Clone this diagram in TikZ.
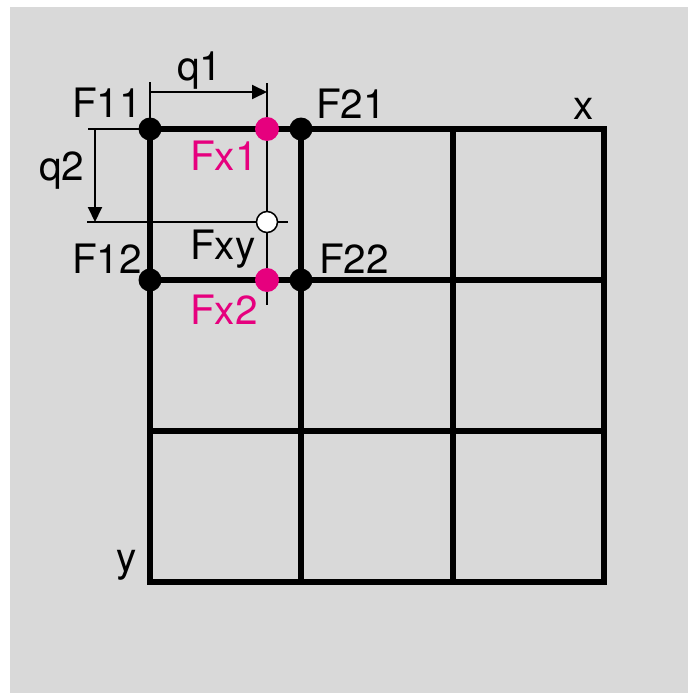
\documentclass[tikz,border=0pt]{standalone}
\usepackage{fontspec}
\setmainfont{TeX Gyre Heros}
\usetikzlibrary{arrows.meta}
\definecolor{fxpink}{RGB}{230,0,126}
\definecolor{bggray}{RGB}{217,217,217}

\begin{document}
\begin{tikzpicture}[x=1pt,y=-1pt,
    every node/.style={inner sep=0pt,font=\fontsize{40.5}{48}\selectfont},
    lbl/.style={anchor=base west},
    thinline/.style={line width=2pt},
    dim/.style={thinline,-{Triangle[length=15pt,width=14pt]}},
    gridline/.style={line width=5.2pt},
    knot/.style={circle,fill=black,minimum size=23pt},
    interp/.style={circle,fill=fxpink,minimum size=24pt},
    target/.style={circle,draw=black,line width=1.5pt,fill=white,minimum size=21pt}]

    \useasboundingbox (0,0) rectangle (688,693);
    \fill[bggray] (10,7) rectangle (688,693);

    % helper lines through the interpolated points
    \coordinate (vtop) at (267,83);
    \coordinate (vbot) at (267,305);
    \coordinate (hleft) at (87,222);
    \coordinate (hright) at (288,222);
    \draw[thinline] (vtop) -- (vbot);
    \draw[thinline] (hleft) -- (hright);

    % grid
    \draw[gridline] (150,129) rectangle (604,582);
    \foreach \gx/\gy in {301/280,453/431} {
        \draw[gridline] (\gx,129) -- (\gx,582);
        \draw[gridline] (150,\gy) -- (604,\gy);
    }

    % points
    \node[knot] (f11) at (150,129) {};
    \node[knot] (f21) at (301,129) {};
    \node[knot] (f12) at (150,280) {};
    \node[knot] (f22) at (301,280) {};
    \node[interp] (fx1) at (267,129) {};
    \node[interp] (fx2) at (267,280) {};
    \node[target] (fxy) at (267,222) {};

    % dimensions q1 and q2
    \coordinate (q1tick) at (150,82);
    \coordinate (q1from) at (150,92);
    \coordinate (q1to) at (267,92);
    \draw[thinline] (q1tick) -- (f11.center);
    \draw[dim] (q1from) -- (q1to);
    \coordinate (q2tick) at (88,129);
    \coordinate (q2from) at (95,129);
    \coordinate (q2to) at (95,222);
    \draw[thinline] (q2tick) -- (f11.center);
    \draw[dim] (q2from) -- (q2to);

    % labels
    \node[lbl] (l11) at (72,117) {F11};
    \node[lbl] (l12) at (72,273) {F12};
    \node[lbl] (l21) at (316,118) {F21};
    \node[lbl] (l22) at (319,273) {F22};
    \node[lbl,text=fxpink] (lx1) at (190,170) {Fx1};
    \node[lbl,text=fxpink] (lx2) at (190,324) {Fx2};
    \node[lbl] (lxy) at (190,259) {Fxy};
    \node[lbl] (lq1) at (177,81) {q1};
    \node[lbl] (lq2) at (39,180) {q2};
    \node[lbl] (lx) at (573,119) {x};
    \node[lbl] (ly) at (116,571) {y};
\end{tikzpicture}
\end{document}
